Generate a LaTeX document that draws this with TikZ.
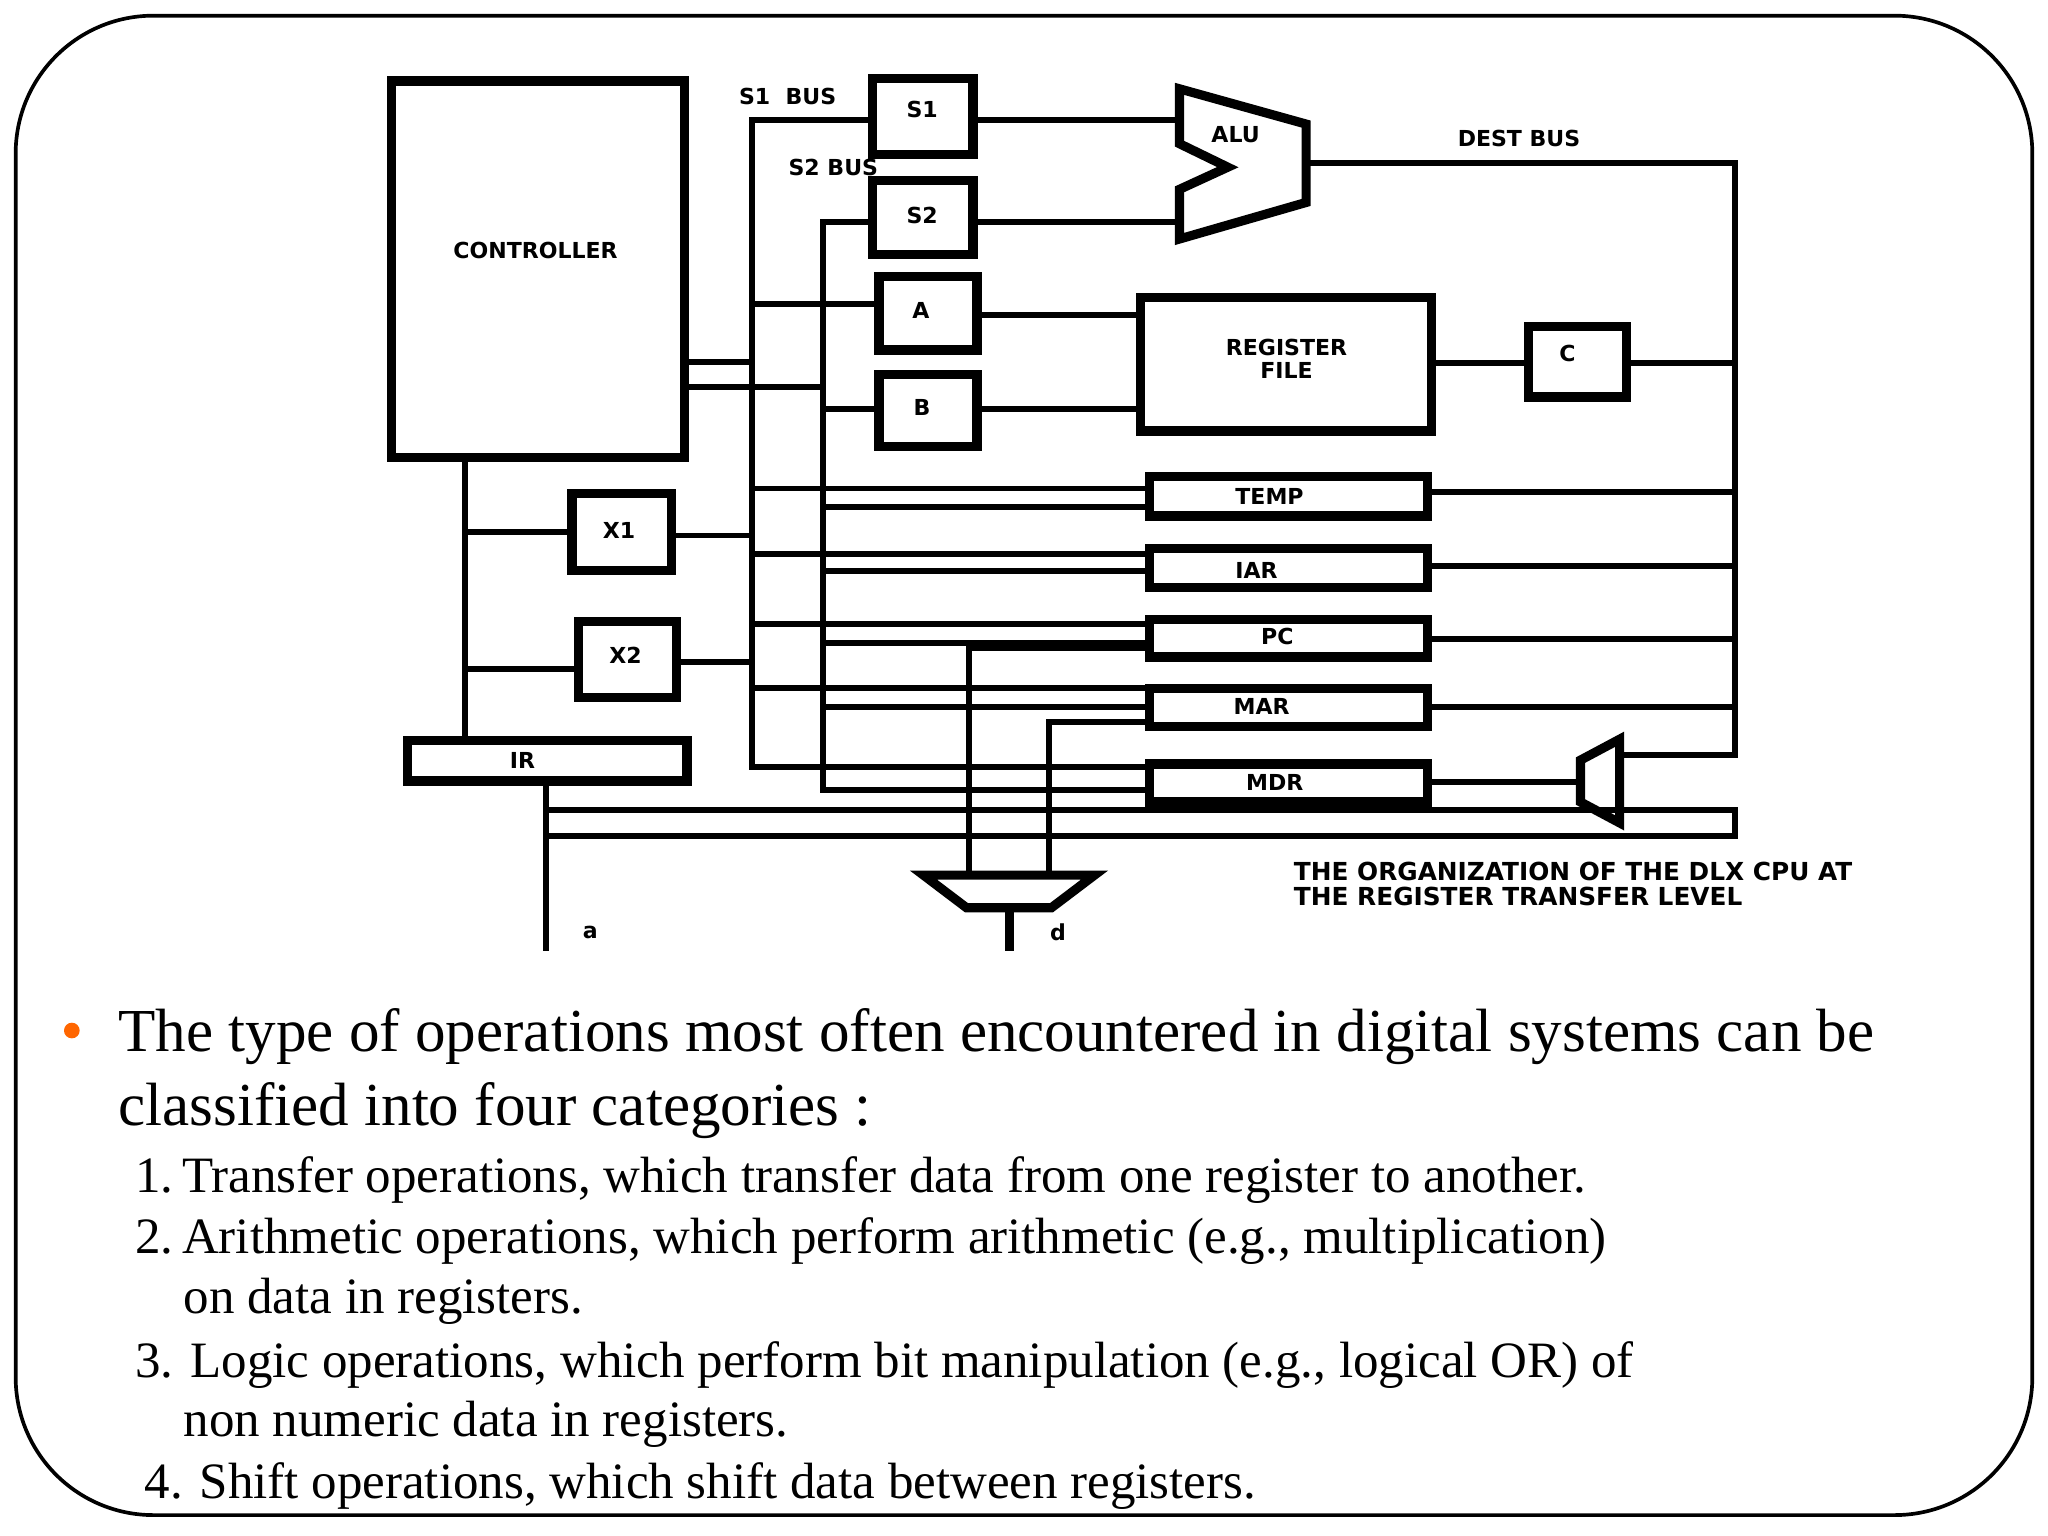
\documentclass[tikz,border=0pt]{standalone}
\usepackage{fontspec}
\setmainfont{Liberation Serif}
\newfontfamily\labf{DejaVu Sans}
\begin{document}
\begin{tikzpicture}[x=0.01cm,y=-0.01cm,
  w/.style={line width=1.3pt},
  reg/.style={draw,line width=2pt,inner sep=0pt},
  lab/.style={font=\labf\bfseries\fontsize{4.8}{5}\selectfont,inner sep=0pt,align=center},
  body/.style={anchor=base west,inner sep=0pt,font=\fontsize{13.3}{14}\selectfont},
  item/.style={anchor=base west,inner sep=0pt,font=\fontsize{11.1}{12}\selectfont}]
\useasboundingbox (0,0) rectangle (1568,1176);
\draw[line width=0.8pt,rounded corners=30] (12,12) rectangle (1556,1160);
% boxes
\draw[reg] (300,62) rectangle (524,350); \node[lab] (ctl) at (410,192) {CONTROLLER};
\draw[reg] (668,60) rectangle (745,118); \node[lab] (s1) at (706,84) {S1};
\draw[reg] (668,138) rectangle (745,195); \node[lab] (s2) at (706,165) {S2};
\draw[reg] (673,212) rectangle (748,268); \node[lab] (a) at (705,238) {A};
\draw[reg] (673,287) rectangle (748,342); \node[lab] (b) at (706,312) {B};
\draw[reg] (873,228) rectangle (1096,330); \node[lab] (rf) at (985,275) {REGISTER\\FILE};
\draw[reg] (1170,250) rectangle (1245,304); \node[lab] (c) at (1200,271) {C};
\draw[reg] (880,365) rectangle (1093,395); \node[lab] (temp) at (972,380) {TEMP};
\draw[reg] (880,420) rectangle (1093,450); \node[lab] (iar) at (962,437) {IAR};
\draw[reg] (880,474) rectangle (1093,503); \node[lab] (pc) at (978,487) {PC};
\draw[reg] (880,527) rectangle (1093,556); \node[lab] (mar) at (966,541) {MAR};
\draw[reg] (880,585) rectangle (1093,614); \node[lab] (mdr) at (976,599) {MDR};
\draw[reg] (438,378) rectangle (514,437); \node[lab] (x1) at (474,406) {X1};
\draw[reg] (443,476) rectangle (518,534); \node[lab] (x2) at (479,502) {X2};
\draw[reg] (312,567) rectangle (526,598); \node[lab] (ir) at (400,582) {IR};
% ALU
\draw[reg] (903,68) -- (1000,95) -- (1000,155) -- (903,183) -- (903,145) -- (940,128) -- (903,110) -- cycle;
\node[lab] (alu) at (946,103) {ALU};
% muxes
\draw[reg] (1210,582) -- (1240,566) -- (1240,630) -- (1210,614) -- cycle;
\draw[reg] (707,670) -- (838,670) -- (805,695) -- (740,695) -- cycle;
% labels
\node[lab] (s1bus) at (603,74) {S1\ \ BUS};
\node[lab] (s2bus) at (638,128) {S2 BUS};
\node[lab] (dest) at (1163,106) {DEST BUS};
\node[lab] (la) at (452,714) {a};
\node[lab] (ld) at (810,714) {d};
\node[lab,anchor=north west,align=left,font=\labf\bfseries\fontsize{5.4}{5.6}\selectfont] (cap) at (990,659) {THE ORGANIZATION OF THE DLX CPU AT\\THE REGISTER TRANSFER LEVEL};
% wires
\draw[w] (668,92) -- (576,92) -- (576,587) -- (880,587);
\draw[w] (668,170) -- (630,170) -- (630,605) -- (880,605);
\draw[w] (745,92) -- (903,92);
\draw[w] (745,170) -- (903,170);
\draw[w] (1000,125) -- (1328,125) -- (1328,578) -- (1240,578);
\draw[w] (576,233) -- (673,233);
\draw[w] (630,313) -- (673,313);
\draw[w] (748,241) -- (873,241);
\draw[w] (748,313) -- (873,313);
\draw[w] (1096,278) -- (1170,278);
\draw[w] (1245,278) -- (1328,278);
\draw[w] (524,277) -- (576,277);
\draw[w] (524,296) -- (630,296);
\foreach \ya/\yb/\yr in {374/388/377,424/437/433,478/492/489,527/541/541}{
  \draw[w] (576,\ya) -- (880,\ya);
  \draw[w] (630,\yb) -- (880,\yb);
  \draw[w] (1093,\yr) -- (1328,\yr);}
\draw[w] (1093,599) -- (1210,599);
\draw[w] (356,350) -- (356,567);
\draw[w] (356,407) -- (438,407);
\draw[w] (514,410) -- (576,410);
\draw[w] (356,512) -- (443,512);
\draw[w] (518,507) -- (576,507);
\draw[w] (418,598) -- (418,728);
\draw[w] (418,620) -- (1240,620);
\draw[w] (418,640) -- (1328,640) -- (1328,620) -- (1240,620);
\draw[w] (880,496) -- (742,496) -- (742,670);
\draw[w] (880,553) -- (803,553) -- (803,670);
\draw[line width=2pt] (773,695) -- (773,728);
% text
\fill[orange!80!red] (55,789) circle (6);
\node[body] (t1) at (90,805) {The type of operations most often encountered in digital systems can be};
\node[body] (t2) at (90,862) {classified into four categories :};
\node[item] (i1) at (103,913) {1.\,Transfer operations, which transfer data from one register to another.};
\node[item] (i2) at (103,960) {2.\,Arithmetic operations, which perform arithmetic (e.g., multiplication)};
\node[item] (i2b) at (140,1006) {on data in registers.};
\node[item] (i3) at (103,1055) {3. Logic operations, which perform bit manipulation (e.g., logical OR) of};
\node[item] (i3b) at (140,1100) {non numeric data in registers.};
\node[item] (i4) at (110,1147) {4. Shift operations, which shift data between registers.};
\end{tikzpicture}
\end{document}
